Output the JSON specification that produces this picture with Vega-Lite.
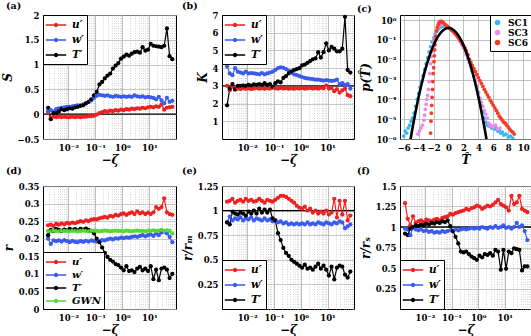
{
"$schema":"https://vega.github.io/schema/vega-lite/v6.json",
"padding":{"left":0,"top":0,"right":0,"bottom":0},
"columns":3,
"spacing":{"row":47,"column":46},
"bounds":"flush",
"resolve":{"scale":{"color":"independent"},"legend":{"color":"independent"}},
"config":{
 "font":"DejaVu Serif",
 "view":{"stroke":"#000000","strokeWidth":1},
 "axis":{"labelFont":"DejaVu Serif","labelFontWeight":"bold","labelFontSize":8.5,"labelColor":"#000000","titleFont":"DejaVu Serif","titleFontWeight":"bold","titleFontStyle":"italic","titleFontSize":11,"titleColor":"#000000","domain":false,"ticks":false,"grid":true,"gridColor":"#b0b0b0","gridWidth":0.7,"labelPadding":4,"titlePadding":3,"labelOverlap":false,"labelFlush":false},
 "legend":{"labelFont":"DejaVu Serif","labelFontWeight":"bold","labelColor":"#000000","strokeColor":"#000000","fillColor":"#ffffff","padding":3,"offset":0,"cornerRadius":0},
 "title":{"anchor":"start","frame":"group","font":"DejaVu Serif","fontWeight":"bold","fontSize":9.5,"color":"#000000","offset":1}
},
"datasets":{
 "a":[
{"x":0.001778,"u":0.03,"w":0.06,"T":0.13},{"x":0.002239,"u":-0.08,"w":0.08,"T":-0.10},{"x":0.002818,"u":-0.05,"w":0.05,"T":0.02},{"x":0.003548,"u":-0.06,"w":0.10,"T":0.02},{"x":0.004467,"u":-0.05,"w":0.12,"T":0.05},{"x":0.005623,"u":-0.06,"w":0.13,"T":0.10},{"x":0.007079,"u":-0.05,"w":0.14,"T":0.08},{"x":0.008913,"u":-0.06,"w":0.15,"T":0.10},{"x":0.01122,"u":-0.06,"w":0.15,"T":0.12},{"x":0.01413,"u":-0.05,"w":0.16,"T":0.11},{"x":0.01778,"u":-0.06,"w":0.17,"T":0.14},{"x":0.02239,"u":-0.05,"w":0.18,"T":0.15},{"x":0.02818,"u":-0.06,"w":0.18,"T":0.17},{"x":0.03548,"u":-0.05,"w":0.20,"T":0.18},{"x":0.04467,"u":-0.05,"w":0.22,"T":0.22},{"x":0.05623,"u":-0.04,"w":0.25,"T":0.25},{"x":0.07079,"u":-0.04,"w":0.28,"T":0.30},{"x":0.08913,"u":-0.03,"w":0.33,"T":0.38},{"x":0.1122,"u":-0.01,"w":0.37,"T":0.45},{"x":0.1413,"u":0.02,"w":0.39,"T":0.60},{"x":0.1778,"u":0.04,"w":0.38,"T":0.65},{"x":0.2239,"u":0.06,"w":0.37,"T":0.72},{"x":0.2818,"u":0.05,"w":0.38,"T":0.78},{"x":0.3548,"u":0.07,"w":0.36,"T":0.82},{"x":0.4467,"u":0.06,"w":0.35,"T":0.92},{"x":0.5623,"u":0.08,"w":0.37,"T":0.98},{"x":0.7079,"u":0.07,"w":0.36,"T":1.03},{"x":0.8913,"u":0.09,"w":0.35,"T":1.12},{"x":1.122,"u":0.08,"w":0.36,"T":1.16},{"x":1.413,"u":0.10,"w":0.35,"T":1.20},{"x":1.778,"u":0.09,"w":0.36,"T":1.18},{"x":2.239,"u":0.11,"w":0.35,"T":1.22},{"x":2.818,"u":0.10,"w":0.38,"T":1.25},{"x":3.548,"u":0.12,"w":0.36,"T":1.26},{"x":4.467,"u":0.11,"w":0.35,"T":1.24},{"x":5.623,"u":0.13,"w":0.36,"T":1.35},{"x":7.079,"u":0.12,"w":0.34,"T":1.28},{"x":8.913,"u":0.14,"w":0.35,"T":1.30},{"x":11.22,"u":0.15,"w":0.34,"T":1.42},{"x":14.13,"u":0.14,"w":0.33,"T":1.38},{"x":17.78,"u":0.16,"w":0.30,"T":1.37},{"x":22.39,"u":0.15,"w":0.35,"T":1.36},{"x":28.18,"u":0.20,"w":0.28,"T":1.35},{"x":35.48,"u":0.09,"w":0.22,"T":1.38},{"x":44.67,"u":0.13,"w":0.33,"T":1.73},{"x":56.23,"u":0.14,"w":0.25,"T":1.17},{"x":70.79,"u":0.15,"w":0.27,"T":1.11}
 ],
 "b":[
{"x":0.001778,"u":3.0,"w":4.1,"T":1.9},{"x":0.002239,"u":2.75,"w":3.7,"T":2.85},{"x":0.002818,"u":2.95,"w":3.6,"T":3.1},{"x":0.003548,"u":2.8,"w":4.0,"T":2.8},{"x":0.004467,"u":2.85,"w":3.8,"T":3.0},{"x":0.005623,"u":2.82,"w":3.75,"T":3.0},{"x":0.007079,"u":2.87,"w":3.7,"T":3.02},{"x":0.008913,"u":2.83,"w":3.8,"T":3.0},{"x":0.01122,"u":2.86,"w":3.7,"T":3.05},{"x":0.01413,"u":2.82,"w":3.72,"T":3.02},{"x":0.01778,"u":2.85,"w":3.7,"T":3.08},{"x":0.02239,"u":2.88,"w":3.68,"T":3.05},{"x":0.02818,"u":2.84,"w":3.65,"T":3.1},{"x":0.03548,"u":2.86,"w":3.72,"T":3.05},{"x":0.04467,"u":2.83,"w":3.65,"T":3.15},{"x":0.05623,"u":2.87,"w":3.7,"T":3.05},{"x":0.07079,"u":2.85,"w":3.75,"T":3.1},{"x":0.08913,"u":2.9,"w":3.8,"T":2.95},{"x":0.1122,"u":2.86,"w":3.9,"T":3.15},{"x":0.1413,"u":2.84,"w":4.0,"T":3.25},{"x":0.1778,"u":2.88,"w":4.05,"T":3.2},{"x":0.2239,"u":2.85,"w":4.02,"T":3.45},{"x":0.2818,"u":2.87,"w":3.95,"T":3.55},{"x":0.3548,"u":2.84,"w":3.85,"T":3.7},{"x":0.4467,"u":2.86,"w":3.75,"T":3.8},{"x":0.5623,"u":2.83,"w":3.65,"T":3.9},{"x":0.7079,"u":2.87,"w":3.6,"T":3.95},{"x":0.8913,"u":2.85,"w":3.55,"T":4.0},{"x":1.122,"u":2.88,"w":3.5,"T":4.15},{"x":1.413,"u":2.84,"w":3.45,"T":4.2},{"x":1.778,"u":2.86,"w":3.42,"T":4.3},{"x":2.239,"u":2.88,"w":3.4,"T":4.4},{"x":2.818,"u":2.85,"w":3.38,"T":4.5},{"x":3.548,"u":2.87,"w":3.35,"T":4.55},{"x":4.467,"u":2.84,"w":3.35,"T":4.9},{"x":5.623,"u":2.9,"w":3.33,"T":4.6},{"x":7.079,"u":2.86,"w":3.3,"T":4.9},{"x":8.913,"u":3.02,"w":3.32,"T":5.4},{"x":11.22,"u":2.85,"w":3.3,"T":5.0},{"x":14.13,"u":2.88,"w":3.28,"T":5.2},{"x":17.78,"u":2.7,"w":3.3,"T":5.1},{"x":22.39,"u":2.82,"w":3.35,"T":4.95},{"x":28.18,"u":2.62,"w":3.1,"T":4.95},{"x":35.48,"u":2.75,"w":3.15,"T":5.1},{"x":44.67,"u":2.85,"w":3.05,"T":6.9},{"x":56.23,"u":2.48,"w":3.1,"T":3.9},{"x":70.79,"u":2.42,"w":2.85,"T":3.75}
 ],
 "d":[
{"x":0.001778,"u":0.238,"w":0.2,"T":0.21,"G":0.222},{"x":0.002239,"u":0.24,"w":0.185,"T":0.225,"G":0.221},{"x":0.002818,"u":0.236,"w":0.195,"T":0.222,"G":0.223},{"x":0.003548,"u":0.242,"w":0.193,"T":0.228,"G":0.222},{"x":0.004467,"u":0.24,"w":0.195,"T":0.225,"G":0.221},{"x":0.005623,"u":0.243,"w":0.192,"T":0.222,"G":0.223},{"x":0.007079,"u":0.241,"w":0.196,"T":0.226,"G":0.222},{"x":0.008913,"u":0.245,"w":0.193,"T":0.224,"G":0.222},{"x":0.01122,"u":0.243,"w":0.19,"T":0.228,"G":0.221},{"x":0.01413,"u":0.246,"w":0.194,"T":0.225,"G":0.223},{"x":0.01778,"u":0.244,"w":0.191,"T":0.227,"G":0.222},{"x":0.02239,"u":0.247,"w":0.19,"T":0.224,"G":0.221},{"x":0.02818,"u":0.25,"w":0.193,"T":0.228,"G":0.222},{"x":0.03548,"u":0.248,"w":0.191,"T":0.226,"G":0.223},{"x":0.04467,"u":0.252,"w":0.194,"T":0.229,"G":0.222},{"x":0.05623,"u":0.25,"w":0.192,"T":0.225,"G":0.221},{"x":0.07079,"u":0.254,"w":0.195,"T":0.222,"G":0.222},{"x":0.08913,"u":0.256,"w":0.193,"T":0.215,"G":0.223},{"x":0.1122,"u":0.255,"w":0.192,"T":0.2,"G":0.222},{"x":0.1413,"u":0.258,"w":0.194,"T":0.19,"G":0.221},{"x":0.1778,"u":0.26,"w":0.196,"T":0.175,"G":0.222},{"x":0.2239,"u":0.262,"w":0.195,"T":0.16,"G":0.223},{"x":0.2818,"u":0.26,"w":0.198,"T":0.148,"G":0.222},{"x":0.3548,"u":0.265,"w":0.2,"T":0.14,"G":0.221},{"x":0.4467,"u":0.263,"w":0.198,"T":0.135,"G":0.222},{"x":0.5623,"u":0.268,"w":0.201,"T":0.128,"G":0.223},{"x":0.7079,"u":0.266,"w":0.2,"T":0.125,"G":0.222},{"x":0.8913,"u":0.27,"w":0.203,"T":0.118,"G":0.222},{"x":1.122,"u":0.272,"w":0.202,"T":0.11,"G":0.221},{"x":1.413,"u":0.268,"w":0.204,"T":0.122,"G":0.223},{"x":1.778,"u":0.272,"w":0.203,"T":0.108,"G":0.222},{"x":2.239,"u":0.275,"w":0.205,"T":0.11,"G":0.221},{"x":2.818,"u":0.27,"w":0.207,"T":0.105,"G":0.222},{"x":3.548,"u":0.278,"w":0.205,"T":0.115,"G":0.223},{"x":4.467,"u":0.272,"w":0.208,"T":0.12,"G":0.222},{"x":5.623,"u":0.275,"w":0.21,"T":0.11,"G":0.222},{"x":7.079,"u":0.27,"w":0.207,"T":0.115,"G":0.221},{"x":8.913,"u":0.274,"w":0.21,"T":0.108,"G":0.223},{"x":11.22,"u":0.27,"w":0.212,"T":0.122,"G":0.222},{"x":14.13,"u":0.275,"w":0.208,"T":0.085,"G":0.224},{"x":17.78,"u":0.29,"w":0.215,"T":0.112,"G":0.222},{"x":22.39,"u":0.285,"w":0.21,"T":0.082,"G":0.223},{"x":28.18,"u":0.29,"w":0.218,"T":0.115,"G":0.225},{"x":35.48,"u":0.315,"w":0.22,"T":0.118,"G":0.222},{"x":44.67,"u":0.275,"w":0.215,"T":0.112,"G":0.224},{"x":56.23,"u":0.27,"w":0.205,"T":0.088,"G":0.223},{"x":70.79,"u":0.268,"w":0.19,"T":0.1,"G":0.215}
 ],
 "e":[
{"x":0.001778,"u":1.09,"w":0.88,"T":0.88},{"x":0.002239,"u":1.1,"w":0.94,"T":0.86},{"x":0.002818,"u":1.12,"w":0.9,"T":0.99},{"x":0.003548,"u":1.08,"w":0.92,"T":0.97},{"x":0.004467,"u":1.1,"w":0.91,"T":0.96},{"x":0.005623,"u":1.11,"w":0.93,"T":0.98},{"x":0.007079,"u":1.09,"w":0.9,"T":0.97},{"x":0.008913,"u":1.12,"w":0.92,"T":0.95},{"x":0.01122,"u":1.1,"w":0.91,"T":0.99},{"x":0.01413,"u":1.11,"w":0.93,"T":0.97},{"x":0.01778,"u":1.09,"w":0.9,"T":1.0},{"x":0.02239,"u":1.1,"w":0.92,"T":0.97},{"x":0.02818,"u":1.12,"w":0.91,"T":1.02},{"x":0.03548,"u":1.1,"w":0.9,"T":0.98},{"x":0.04467,"u":1.08,"w":0.92,"T":1.01},{"x":0.05623,"u":1.11,"w":0.9,"T":0.98},{"x":0.07079,"u":1.1,"w":0.91,"T":1.01},{"x":0.08913,"u":1.09,"w":0.89,"T":0.92},{"x":0.1122,"u":1.11,"w":0.9,"T":0.9},{"x":0.1413,"u":1.13,"w":0.88,"T":0.77},{"x":0.1778,"u":1.15,"w":0.89,"T":0.7},{"x":0.2239,"u":1.15,"w":0.87,"T":0.62},{"x":0.2818,"u":1.14,"w":0.88,"T":0.57},{"x":0.3548,"u":1.12,"w":0.86,"T":0.54},{"x":0.4467,"u":1.1,"w":0.87,"T":0.5},{"x":0.5623,"u":1.08,"w":0.86,"T":0.48},{"x":0.7079,"u":1.05,"w":0.87,"T":0.46},{"x":0.8913,"u":1.03,"w":0.86,"T":0.44},{"x":1.122,"u":1.02,"w":0.87,"T":0.42},{"x":1.413,"u":1.04,"w":0.86,"T":0.45},{"x":1.778,"u":1.0,"w":0.88,"T":0.41},{"x":2.239,"u":1.02,"w":0.86,"T":0.42},{"x":2.818,"u":0.98,"w":0.87,"T":0.4},{"x":3.548,"u":1.0,"w":0.86,"T":0.43},{"x":4.467,"u":0.97,"w":0.88,"T":0.46},{"x":5.623,"u":0.99,"w":0.87,"T":0.41},{"x":7.079,"u":0.97,"w":0.86,"T":0.44},{"x":8.913,"u":1.0,"w":0.88,"T":0.4},{"x":11.22,"u":0.96,"w":0.87,"T":0.34},{"x":14.13,"u":0.98,"w":0.86,"T":0.43},{"x":17.78,"u":1.12,"w":0.88,"T":0.3},{"x":22.39,"u":0.93,"w":0.87,"T":0.42},{"x":28.18,"u":1.1,"w":0.89,"T":0.44},{"x":35.48,"u":0.96,"w":0.88,"T":0.43},{"x":44.67,"u":1.1,"w":0.82,"T":0.35},{"x":56.23,"u":0.9,"w":0.84,"T":0.32},{"x":70.79,"u":0.95,"w":0.86,"T":0.38}
 ],
 "f":[
{"x":0.001778,"u":1.29,"w":0.98,"T":0.92},{"x":0.002239,"u":1.1,"w":0.97,"T":0.9},{"x":0.002818,"u":1.02,"w":0.9,"T":0.98},{"x":0.003548,"u":1.13,"w":0.99,"T":1.0},{"x":0.004467,"u":1.05,"w":0.97,"T":1.02},{"x":0.005623,"u":1.07,"w":0.96,"T":1.01},{"x":0.007079,"u":1.08,"w":0.97,"T":1.03},{"x":0.008913,"u":1.06,"w":0.95,"T":1.02},{"x":0.01122,"u":1.09,"w":0.96,"T":1.04},{"x":0.01413,"u":1.08,"w":0.94,"T":1.03},{"x":0.01778,"u":1.07,"w":0.95,"T":1.05},{"x":0.02239,"u":1.09,"w":0.93,"T":1.04},{"x":0.02818,"u":1.1,"w":0.94,"T":1.06},{"x":0.03548,"u":1.08,"w":0.93,"T":1.05},{"x":0.04467,"u":1.11,"w":0.95,"T":1.07},{"x":0.05623,"u":1.12,"w":0.94,"T":1.06},{"x":0.07079,"u":1.13,"w":0.95,"T":1.08},{"x":0.08913,"u":1.16,"w":0.96,"T":1.01},{"x":0.1122,"u":1.15,"w":0.95,"T":0.95},{"x":0.1413,"u":1.17,"w":0.97,"T":0.88},{"x":0.1778,"u":1.18,"w":0.96,"T":0.8},{"x":0.2239,"u":1.19,"w":0.97,"T":0.7},{"x":0.2818,"u":1.2,"w":0.98,"T":0.69},{"x":0.3548,"u":1.22,"w":0.97,"T":0.7},{"x":0.4467,"u":1.21,"w":0.98,"T":0.67},{"x":0.5623,"u":1.23,"w":0.99,"T":0.64},{"x":0.7079,"u":1.24,"w":0.98,"T":0.62},{"x":0.8913,"u":1.26,"w":0.99,"T":0.6},{"x":1.122,"u":1.25,"w":0.98,"T":0.65},{"x":1.413,"u":1.22,"w":1.0,"T":0.63},{"x":1.778,"u":1.24,"w":0.99,"T":0.67},{"x":2.239,"u":1.26,"w":0.98,"T":0.66},{"x":2.818,"u":1.25,"w":1.0,"T":0.68},{"x":3.548,"u":1.27,"w":0.99,"T":0.65},{"x":4.467,"u":1.3,"w":1.01,"T":0.72},{"x":5.623,"u":1.33,"w":0.99,"T":0.7},{"x":7.079,"u":1.28,"w":1.0,"T":0.48},{"x":8.913,"u":1.26,"w":1.02,"T":0.72},{"x":11.22,"u":1.24,"w":0.99,"T":0.49},{"x":14.13,"u":1.2,"w":1.0,"T":0.7},{"x":17.78,"u":1.38,"w":0.98,"T":0.68},{"x":22.39,"u":1.28,"w":1.0,"T":0.74},{"x":28.18,"u":1.3,"w":1.05,"T":0.73},{"x":35.48,"u":1.38,"w":1.0,"T":0.72},{"x":44.67,"u":1.22,"w":1.02,"T":0.47},{"x":56.23,"u":1.2,"w":0.95,"T":0.52},{"x":70.79,"u":1.18,"w":0.84,"T":0.52}
 ],
 "c":[
{"s":"SC1","x":-6.0,"p":1.41e-6},{"s":"SC1","x":-5.8,"p":2.51e-6},{"s":"SC1","x":-5.6,"p":2.0e-6},{"s":"SC1","x":-5.4,"p":3.55e-6},{"s":"SC1","x":-5.2,"p":5.01e-6},{"s":"SC1","x":-5.0,"p":7.94e-6},{"s":"SC1","x":-4.8,"p":1.12e-5},{"s":"SC1","x":-4.6,"p":2.0e-5},{"s":"SC1","x":-4.4,"p":4.47e-5},{"s":"SC1","x":-4.2,"p":1.0e-4},{"s":"SC1","x":-4.0,"p":2.0e-4},{"s":"SC1","x":-3.8,"p":3.98e-4},{"s":"SC1","x":-3.6,"p":7.94e-4},{"s":"SC1","x":-3.4,"p":1.58e-3},{"s":"SC1","x":-3.2,"p":3.16e-3},{"s":"SC1","x":-3.0,"p":6.31e-3},{"s":"SC1","x":-2.8,"p":0.0126},{"s":"SC1","x":-2.6,"p":0.0251},{"s":"SC1","x":-2.4,"p":0.0447},{"s":"SC1","x":-2.2,"p":0.0794},{"s":"SC1","x":-2.0,"p":0.126},{"s":"SC1","x":-1.8,"p":0.191},{"s":"SC1","x":-1.6,"p":0.269},{"s":"SC1","x":-1.4,"p":0.347},{"s":"SC1","x":-1.2,"p":0.417},{"s":"SC1","x":-1.0,"p":0.468},{"s":"SC1","x":-0.8,"p":0.501},{"s":"SC1","x":-0.6,"p":0.501},{"s":"SC1","x":-0.4,"p":0.49},{"s":"SC1","x":-0.2,"p":0.457},{"s":"SC1","x":0.0,"p":0.427},{"s":"SC1","x":0.2,"p":0.38},{"s":"SC1","x":0.4,"p":0.331},{"s":"SC1","x":0.6,"p":0.282},{"s":"SC1","x":0.8,"p":0.234},{"s":"SC1","x":1.0,"p":0.191},{"s":"SC1","x":1.2,"p":0.148},{"s":"SC1","x":1.4,"p":0.112},{"s":"SC1","x":1.6,"p":0.0832},{"s":"SC1","x":1.8,"p":0.0603},{"s":"SC1","x":2.0,"p":0.0417},{"s":"SC1","x":2.2,"p":0.0282},{"s":"SC1","x":2.4,"p":0.0186},{"s":"SC1","x":2.6,"p":0.0117},{"s":"SC1","x":2.8,"p":7.41e-3},{"s":"SC1","x":3.0,"p":4.47e-3},{"s":"SC1","x":3.2,"p":2.63e-3},{"s":"SC1","x":3.4,"p":1.51e-3},{"s":"SC1","x":3.6,"p":8.51e-4},{"s":"SC1","x":3.8,"p":4.47e-4},{"s":"SC1","x":4.0,"p":2.24e-4},{"s":"SC1","x":4.2,"p":1.12e-4},{"s":"SC1","x":4.4,"p":5.01e-5},{"s":"SC1","x":4.6,"p":2.24e-5},{"s":"SC1","x":4.8,"p":1.12e-5},{"s":"SC1","x":5.0,"p":7.08e-6},{"s":"SC1","x":5.2,"p":5.01e-6},{"s":"SC1","x":5.4,"p":4.47e-6},{"s":"SC1","x":5.6,"p":5.01e-6},{"s":"SC1","x":5.8,"p":3.55e-6},{"s":"SC1","x":6.0,"p":3.98e-6},{"s":"SC1","x":6.2,"p":3.16e-6},{"s":"SC1","x":6.4,"p":3.55e-6},{"s":"SC1","x":6.6,"p":2.51e-6},{"s":"SC1","x":6.8,"p":2.82e-6},{"s":"SC1","x":7.0,"p":2.0e-6},{"s":"SC1","x":7.2,"p":2.24e-6},{"s":"SC1","x":7.4,"p":1.58e-6},{"s":"SC1","x":7.7,"p":1.78e-6},{"s":"SC1","x":8.0,"p":1.26e-6},{"s":"SC1","x":8.3,"p":1.41e-6},{"s":"SC1","x":8.6,"p":1.12e-6},
{"s":"SC3","x":-4.1,"p":1.78e-6},{"s":"SC3","x":-3.9,"p":2.51e-6},{"s":"SC3","x":-3.7,"p":3.55e-6},{"s":"SC3","x":-3.5,"p":5.01e-6},{"s":"SC3","x":-3.3,"p":8.91e-6},{"s":"SC3","x":-3.2,"p":1.58e-5},{"s":"SC3","x":-3.1,"p":3.16e-5},{"s":"SC3","x":-3.0,"p":5.62e-5},{"s":"SC3","x":-2.9,"p":1.0e-4},{"s":"SC3","x":-2.8,"p":1.58e-4},{"s":"SC3","x":-2.7,"p":3.16e-4},{"s":"SC3","x":-2.6,"p":7.94e-4},{"s":"SC3","x":-2.5,"p":2.0e-3},{"s":"SC3","x":-2.4,"p":6.31e-3},{"s":"SC3","x":-2.3,"p":0.0141},{"s":"SC3","x":-2.2,"p":0.0251},{"s":"SC3","x":-2.1,"p":0.0447},{"s":"SC3","x":-2.0,"p":0.0708},{"s":"SC3","x":-1.9,"p":0.112},{"s":"SC3","x":-1.8,"p":0.158},{"s":"SC3","x":-1.6,"p":0.282},{"s":"SC3","x":-1.4,"p":0.417},{"s":"SC3","x":-1.2,"p":0.537},{"s":"SC3","x":-1.0,"p":0.631},{"s":"SC3","x":-0.8,"p":0.646},{"s":"SC3","x":-0.6,"p":0.603},{"s":"SC3","x":-0.4,"p":0.537},{"s":"SC3","x":-0.2,"p":0.479},{"s":"SC3","x":0.0,"p":0.427},{"s":"SC3","x":0.2,"p":0.372},{"s":"SC3","x":0.4,"p":0.316},{"s":"SC3","x":0.6,"p":0.269},{"s":"SC3","x":0.8,"p":0.224},{"s":"SC3","x":1.0,"p":0.182},{"s":"SC3","x":1.2,"p":0.141},{"s":"SC3","x":1.4,"p":0.107},{"s":"SC3","x":1.6,"p":0.0794},{"s":"SC3","x":1.8,"p":0.0562},{"s":"SC3","x":2.0,"p":0.0398},{"s":"SC3","x":2.2,"p":0.0269},{"s":"SC3","x":2.4,"p":0.0178},{"s":"SC3","x":2.6,"p":0.0112},{"s":"SC3","x":2.8,"p":7.08e-3},{"s":"SC3","x":3.0,"p":4.47e-3},{"s":"SC3","x":3.2,"p":2.82e-3},{"s":"SC3","x":3.4,"p":1.58e-3},{"s":"SC3","x":3.6,"p":8.91e-4},{"s":"SC3","x":3.8,"p":4.47e-4},{"s":"SC3","x":4.0,"p":2.0e-4},{"s":"SC3","x":4.2,"p":1.12e-4},{"s":"SC3","x":4.4,"p":7.08e-5},{"s":"SC3","x":4.6,"p":4.47e-5},{"s":"SC3","x":4.8,"p":2.82e-5},{"s":"SC3","x":5.0,"p":1.78e-5},{"s":"SC3","x":5.2,"p":1.12e-5},{"s":"SC3","x":5.4,"p":6.31e-6},{"s":"SC3","x":5.6,"p":5.01e-6},{"s":"SC3","x":5.8,"p":4.47e-6},{"s":"SC3","x":6.0,"p":3.98e-6},{"s":"SC3","x":6.3,"p":5.01e-6},{"s":"SC3","x":6.6,"p":3.16e-6},{"s":"SC3","x":6.9,"p":3.55e-6},
{"s":"SC6","x":-2.4,"p":2.0e-6},{"s":"SC6","x":-2.35,"p":7.9e-6},{"s":"SC6","x":-2.3,"p":2.0e-5},{"s":"SC6","x":-2.25,"p":5.0e-5},{"s":"SC6","x":-2.2,"p":1.26e-4},{"s":"SC6","x":-2.15,"p":3.16e-4},{"s":"SC6","x":-2.1,"p":7.9e-4},{"s":"SC6","x":-2.05,"p":2.0e-3},{"s":"SC6","x":-2.0,"p":3.98e-3},{"s":"SC6","x":-1.95,"p":7.9e-3},{"s":"SC6","x":-1.9,"p":0.0158},{"s":"SC6","x":-1.85,"p":0.0316},{"s":"SC6","x":-1.8,"p":0.0562},{"s":"SC6","x":-1.75,"p":0.1},{"s":"SC6","x":-1.7,"p":0.151},{"s":"SC6","x":-1.6,"p":0.282},{"s":"SC6","x":-1.5,"p":0.417},{"s":"SC6","x":-1.4,"p":0.562},{"s":"SC6","x":-1.3,"p":0.692},{"s":"SC6","x":-1.2,"p":0.794},{"s":"SC6","x":-1.1,"p":0.851},{"s":"SC6","x":-1.0,"p":0.871},{"s":"SC6","x":-0.9,"p":0.832},{"s":"SC6","x":-0.8,"p":0.794},{"s":"SC6","x":-0.6,"p":0.692},{"s":"SC6","x":-0.4,"p":0.575},{"s":"SC6","x":-0.2,"p":0.501},{"s":"SC6","x":0.0,"p":0.427},{"s":"SC6","x":0.2,"p":0.372},{"s":"SC6","x":0.4,"p":0.316},{"s":"SC6","x":0.6,"p":0.269},{"s":"SC6","x":0.8,"p":0.224},{"s":"SC6","x":1.0,"p":0.186},{"s":"SC6","x":1.2,"p":0.148},{"s":"SC6","x":1.4,"p":0.115},{"s":"SC6","x":1.6,"p":0.0891},{"s":"SC6","x":1.8,"p":0.0692},{"s":"SC6","x":2.0,"p":0.0525},{"s":"SC6","x":2.2,"p":0.0398},{"s":"SC6","x":2.4,"p":0.0282},{"s":"SC6","x":2.6,"p":0.0178},{"s":"SC6","x":2.8,"p":0.0105},{"s":"SC6","x":3.0,"p":7.08e-3},{"s":"SC6","x":3.2,"p":5.01e-3},{"s":"SC6","x":3.4,"p":3.55e-3},{"s":"SC6","x":3.6,"p":2.51e-3},{"s":"SC6","x":3.8,"p":1.78e-3},{"s":"SC6","x":4.0,"p":1.26e-3},{"s":"SC6","x":4.2,"p":8.91e-4},{"s":"SC6","x":4.4,"p":6.31e-4},{"s":"SC6","x":4.6,"p":4.47e-4},{"s":"SC6","x":4.8,"p":3.16e-4},{"s":"SC6","x":5.0,"p":2.34e-4},{"s":"SC6","x":5.2,"p":1.70e-4},{"s":"SC6","x":5.4,"p":1.26e-4},{"s":"SC6","x":5.6,"p":8.91e-5},{"s":"SC6","x":5.8,"p":6.76e-5},{"s":"SC6","x":6.0,"p":5.01e-5},{"s":"SC6","x":6.2,"p":3.72e-5},{"s":"SC6","x":6.4,"p":2.75e-5},{"s":"SC6","x":6.6,"p":2.0e-5},{"s":"SC6","x":6.8,"p":1.41e-5},{"s":"SC6","x":7.0,"p":1.12e-5},{"s":"SC6","x":7.2,"p":8.91e-6},{"s":"SC6","x":7.4,"p":7.08e-6},{"s":"SC6","x":7.6,"p":6.31e-6},{"s":"SC6","x":7.8,"p":5.01e-6},{"s":"SC6","x":8.0,"p":3.98e-6},{"s":"SC6","x":8.2,"p":3.16e-6},{"s":"SC6","x":8.4,"p":2.51e-6},{"s":"SC6","x":8.6,"p":2.24e-6},{"s":"SC6","x":8.8,"p":1.78e-6}
 ],
 "g":[
{"x":-5.1,"p":8.95e-7},{"x":-5.05,"p":1.156e-6},{"x":-5.0,"p":1.487e-6},{"x":-4.9,"p":2.44e-6},{"x":-4.75,"p":5.03e-6},{"x":-4.5,"p":1.598e-5},{"x":-4.25,"p":4.77e-5},{"x":-4.0,"p":1.338e-4},{"x":-3.75,"p":3.526e-4},{"x":-3.5,"p":8.727e-4},{"x":-3.25,"p":2.029e-3},{"x":-3.0,"p":4.432e-3},{"x":-2.75,"p":9.094e-3},{"x":-2.5,"p":0.01753},{"x":-2.25,"p":0.03174},{"x":-2.0,"p":0.05399},{"x":-1.75,"p":0.08628},{"x":-1.5,"p":0.1295},{"x":-1.25,"p":0.1826},{"x":-1.0,"p":0.242},{"x":-0.75,"p":0.3011},{"x":-0.5,"p":0.3521},{"x":-0.25,"p":0.3867},{"x":0.0,"p":0.3989},{"x":0.25,"p":0.3867},{"x":0.5,"p":0.3521},{"x":0.75,"p":0.3011},{"x":1.0,"p":0.242},{"x":1.25,"p":0.1826},{"x":1.5,"p":0.1295},{"x":1.75,"p":0.08628},{"x":2.0,"p":0.05399},{"x":2.25,"p":0.03174},{"x":2.5,"p":0.01753},{"x":2.75,"p":9.094e-3},{"x":3.0,"p":4.432e-3},{"x":3.25,"p":2.029e-3},{"x":3.5,"p":8.727e-4},{"x":3.75,"p":3.526e-4},{"x":4.0,"p":1.338e-4},{"x":4.25,"p":4.77e-5},{"x":4.5,"p":1.598e-5},{"x":4.75,"p":5.03e-6},{"x":4.9,"p":2.44e-6},{"x":5.0,"p":1.487e-6},{"x":5.05,"p":1.156e-6},{"x":5.1,"p":8.95e-7}
 ]
},
"concat":[
 {"width":133,"height":124,"title":{"text":"(a)","dx":-37},
  "layer":[
   {"data":{"values":[{}]},"mark":{"type":"rule","color":"#000000","strokeWidth":1.3},"encoding":{"y":{"datum":0,"type":"quantitative","axis":{"title":"S","titleFontSize":12,"values":[-0.5,0,0.5,1,1.5,2],"labelExpr":"replace(''+datum.value,'-','−')","labelOverlap":false}}}},
   {"data":{"name":"a"},"transform":[{"fold":["u","w","T"],"as":["s","y"]}],
    "encoding":{
     "x":{"field":"x","type":"quantitative","scale":{"type":"log","domain":[0.00115,97],"nice":false},"axis":{"title":"−ζ","titleFontSize":12,"labelOverlap":false,"values":[0.002,0.003,0.004,0.005,0.006,0.007,0.008,0.009,0.01,0.02,0.03,0.04,0.05,0.06,0.07,0.08,0.09,0.1,0.2,0.3,0.4,0.5,0.6,0.7,0.8,0.9,1,2,3,4,5,6,7,8,9,10,20,30,40,50,60,70,80,90],"labelExpr":"abs(log(datum.value)/LN10-round(log(datum.value)/LN10))<0.001?['10⁻²','10⁻¹','10⁰','10¹'][round(log(datum.value)/LN10)+2]:''","gridDash":{"condition":{"test":"abs(log(datum.value)/LN10-round(log(datum.value)/LN10))<0.001","value":[]},"value":[1,1.5]},"gridColor":{"condition":{"test":"abs(log(datum.value)/LN10-round(log(datum.value)/LN10))<0.001","value":"#a0a0a0"},"value":"#c4c4c4"}}},
     "y":{"field":"y","type":"quantitative","scale":{"domain":[-0.5,2],"nice":false},"axis":{"title":"S","titleFontSize":12,"values":[-0.5,0,0.5,1,1.5,2],"labelExpr":"replace(''+datum.value,'-','−')","labelOverlap":false}},
     "color":{"field":"s","type":"nominal","scale":{"domain":["u","w","T"],"range":["#ee2020","#3a5bef","#000000"]},
      "legend":{"title":null,"orient":"top-left","symbolType":"M-1.7,0L1.7,0M0.25,0A0.25,0.25,0,1,1,-0.25,0A0.25,0.25,0,1,1,0.25,0Z","symbolSize":144,"symbolStrokeWidth":1.4,"symbolOffset":3,"labelOffset":9,"rowPadding":2,"labelFontSize":10.5,"labelFontStyle":"italic","labelExpr":"datum.value=='u'?'u′':datum.value=='w'?'w′':datum.value=='T'?'T′':'GWN'"}}
    },
    "layer":[{"mark":{"type":"line","strokeWidth":1.2}},{"mark":{"type":"point","filled":true,"size":18,"opacity":1}}]}
  ]},
 {"width":132,"height":124,"title":{"text":"(b)","dx":-40},
  "layer":[
   {"data":{"values":[{}]},"mark":{"type":"rule","color":"#000000","strokeWidth":1.3},"encoding":{"y":{"datum":3,"type":"quantitative","axis":{"title":"K","titleFontSize":12,"values":[1,2,3,4,5,6,7],"labelExpr":"''+datum.value","labelOverlap":false}}}},
   {"data":{"name":"b"},"transform":[{"fold":["u","w","T"],"as":["s","y"]}],
    "encoding":{
     "x":{"field":"x","type":"quantitative","scale":{"type":"log","domain":[0.00115,97],"nice":false},"axis":{"title":"−ζ","titleFontSize":12,"labelOverlap":false,"values":[0.002,0.003,0.004,0.005,0.006,0.007,0.008,0.009,0.01,0.02,0.03,0.04,0.05,0.06,0.07,0.08,0.09,0.1,0.2,0.3,0.4,0.5,0.6,0.7,0.8,0.9,1,2,3,4,5,6,7,8,9,10,20,30,40,50,60,70,80,90],"labelExpr":"abs(log(datum.value)/LN10-round(log(datum.value)/LN10))<0.001?['10⁻²','10⁻¹','10⁰','10¹'][round(log(datum.value)/LN10)+2]:''","gridDash":{"condition":{"test":"abs(log(datum.value)/LN10-round(log(datum.value)/LN10))<0.001","value":[]},"value":[1,1.5]},"gridColor":{"condition":{"test":"abs(log(datum.value)/LN10-round(log(datum.value)/LN10))<0.001","value":"#a0a0a0"},"value":"#c4c4c4"}}},
     "y":{"field":"y","type":"quantitative","scale":{"domain":[1,7],"nice":false},"axis":{"title":"K","titleFontSize":12,"values":[1,2,3,4,5,6,7],"labelExpr":"''+datum.value","labelOverlap":false}},
     "color":{"field":"s","type":"nominal","scale":{"domain":["u","w","T"],"range":["#ee2020","#3a5bef","#000000"]},
      "legend":{"title":null,"orient":"top-left","symbolType":"M-1.7,0L1.7,0M0.25,0A0.25,0.25,0,1,1,-0.25,0A0.25,0.25,0,1,1,0.25,0Z","symbolSize":144,"symbolStrokeWidth":1.4,"symbolOffset":3,"labelOffset":9,"rowPadding":2,"labelFontSize":10.5,"labelFontStyle":"italic","labelExpr":"datum.value=='u'?'u′':datum.value=='w'?'w′':datum.value=='T'?'T′':'GWN'"}}
    },
    "layer":[{"mark":{"type":"line","strokeWidth":1.2}},{"mark":{"type":"point","filled":true,"size":18,"opacity":1}}]}
  ]},
 {"width":131,"height":124,"title":{"text":"(c)","dx":-43},
  "encoding":{
   "x":{"field":"x","type":"quantitative","scale":{"domain":[-6.5,11.05],"nice":false,"zero":false},"axis":{"title":"T̂","titleFontSize":12,"values":[-6,-4,-2,0,2,4,6,8,10],"labelExpr":"replace(''+datum.value,'-','−')","labelOverlap":false,"gridColor":"#a8a8a8"}},
   "y":{"field":"p","type":"quantitative","scale":{"type":"log","domain":[1e-6,1.8],"nice":false},"axis":{"title":"p(T̂)","titleFontSize":12,"labelOverlap":false,"values":[1e-6,1e-5,1e-4,1e-3,1e-2,1e-1,1],"labelExpr":"['10⁰','10⁻¹','10⁻²','10⁻³','10⁻⁴','10⁻⁵','10⁻⁶'][-round(log(datum.value)/LN10)]","gridColor":"#a8a8a8"}}
  },
  "layer":[
   {"data":{"name":"c"},"mark":{"type":"point","filled":true,"size":14,"opacity":1,"clip":true},
    "encoding":{
     "color":{"field":"s","type":"nominal","scale":{"domain":["SC1","SC3","SC6"],"range":["#33b8f0","#ee8aee","#f43c24"]},"legend":{"title":null,"orient":"top-right","symbolType":"circle","symbolSize":30,"labelFontSize":9,"rowPadding":0,"labelOffset":6}}
    }},
   {"data":{"name":"g"},"mark":{"type":"line","color":"#000000","strokeWidth":2.6,"clip":true,"interpolate":"monotone"}}
  ]},
 {"width":133,"height":123,"title":{"text":"(d)","dx":-37,"offset":7},
  "layer":[
   {"data":{"name":"d"},"transform":[{"fold":["u","w","T","G"],"as":["s","y"]}],
    "encoding":{
     "x":{"field":"x","type":"quantitative","scale":{"type":"log","domain":[0.00115,97],"nice":false},"axis":{"title":"−ζ","titleFontSize":12,"labelOverlap":false,"values":[0.002,0.003,0.004,0.005,0.006,0.007,0.008,0.009,0.01,0.02,0.03,0.04,0.05,0.06,0.07,0.08,0.09,0.1,0.2,0.3,0.4,0.5,0.6,0.7,0.8,0.9,1,2,3,4,5,6,7,8,9,10,20,30,40,50,60,70,80,90],"labelExpr":"abs(log(datum.value)/LN10-round(log(datum.value)/LN10))<0.001?['10⁻²','10⁻¹','10⁰','10¹'][round(log(datum.value)/LN10)+2]:''","gridDash":{"condition":{"test":"abs(log(datum.value)/LN10-round(log(datum.value)/LN10))<0.001","value":[]},"value":[1,1.5]},"gridColor":{"condition":{"test":"abs(log(datum.value)/LN10-round(log(datum.value)/LN10))<0.001","value":"#a0a0a0"},"value":"#c4c4c4"}}},
     "y":{"field":"y","type":"quantitative","scale":{"domain":[0,0.35],"nice":false},"axis":{"title":"r","titleFontSize":12,"values":[0,0.05,0.1,0.15,0.2,0.25,0.3,0.35],"labelExpr":"''+datum.value","labelOverlap":false}},
     "color":{"field":"s","type":"nominal","scale":{"domain":["u","w","T","G"],"range":["#ee2020","#3a5bef","#000000","#58d63a"]},
      "legend":{"title":null,"orient":"bottom-left","symbolType":"M-1.7,0L1.7,0M0.25,0A0.25,0.25,0,1,1,-0.25,0A0.25,0.25,0,1,1,0.25,0Z","symbolSize":144,"symbolStrokeWidth":1.4,"symbolOffset":3,"labelOffset":9,"rowPadding":1,"labelFontSize":10,"labelFontStyle":"italic","labelExpr":"datum.value=='u'?'u′':datum.value=='w'?'w′':datum.value=='T'?'T′':'GWN'"}}
    },
    "layer":[{"mark":{"type":"line","strokeWidth":1.2}},{"mark":{"type":"point","filled":true,"size":18,"opacity":1}}]}
  ]},
 {"width":132,"height":123,"title":{"text":"(e)","dx":-40,"offset":7},
  "layer":[
   {"data":{"values":[{}]},"mark":{"type":"rule","color":"#000000","strokeWidth":1.3},"encoding":{"y":{"datum":1,"type":"quantitative","axis":{"title":"r/rₘ","titleFontSize":12,"values":[0.25,0.5,0.75,1,1.25],"labelExpr":"''+datum.value","labelOverlap":false}}}},
   {"data":{"name":"e"},"transform":[{"fold":["u","w","T"],"as":["s","y"]}],
    "encoding":{
     "x":{"field":"x","type":"quantitative","scale":{"type":"log","domain":[0.00115,97],"nice":false},"axis":{"title":"−ζ","titleFontSize":12,"labelOverlap":false,"values":[0.002,0.003,0.004,0.005,0.006,0.007,0.008,0.009,0.01,0.02,0.03,0.04,0.05,0.06,0.07,0.08,0.09,0.1,0.2,0.3,0.4,0.5,0.6,0.7,0.8,0.9,1,2,3,4,5,6,7,8,9,10,20,30,40,50,60,70,80,90],"labelExpr":"abs(log(datum.value)/LN10-round(log(datum.value)/LN10))<0.001?['10⁻²','10⁻¹','10⁰','10¹'][round(log(datum.value)/LN10)+2]:''","gridDash":{"condition":{"test":"abs(log(datum.value)/LN10-round(log(datum.value)/LN10))<0.001","value":[]},"value":[1,1.5]},"gridColor":{"condition":{"test":"abs(log(datum.value)/LN10-round(log(datum.value)/LN10))<0.001","value":"#a0a0a0"},"value":"#c4c4c4"}}},
     "y":{"field":"y","type":"quantitative","scale":{"domain":[0.25,1.25],"nice":false},"axis":{"title":"r/rₘ","titleFontSize":12,"values":[0.25,0.5,0.75,1,1.25],"labelExpr":"''+datum.value","labelOverlap":false}},
     "color":{"field":"s","type":"nominal","scale":{"domain":["u","w","T"],"range":["#ee2020","#3a5bef","#000000"]},
      "legend":{"title":null,"orient":"bottom-left","symbolType":"M-1.7,0L1.7,0M0.25,0A0.25,0.25,0,1,1,-0.25,0A0.25,0.25,0,1,1,0.25,0Z","symbolSize":144,"symbolStrokeWidth":1.4,"symbolOffset":3,"labelOffset":9,"rowPadding":2,"labelFontSize":10.5,"labelFontStyle":"italic","labelExpr":"datum.value=='u'?'u′':datum.value=='w'?'w′':datum.value=='T'?'T′':'GWN'"}}
    },
    "layer":[{"mark":{"type":"line","strokeWidth":1.2}},{"mark":{"type":"point","filled":true,"size":18,"opacity":1}}]}
  ]},
 {"width":131,"height":123,"title":{"text":"(f)","dx":-43,"offset":7},
  "layer":[
   {"data":{"values":[{}]},"mark":{"type":"rule","color":"#000000","strokeWidth":1.3},"encoding":{"y":{"datum":1,"type":"quantitative","axis":{"title":"r/rₛ","titleFontSize":12,"values":[0.25,0.5,0.75,1,1.25,1.5],"labelExpr":"''+datum.value","labelOverlap":false}}}},
   {"data":{"name":"f"},"transform":[{"fold":["u","w","T"],"as":["s","y"]}],
    "encoding":{
     "x":{"field":"x","type":"quantitative","scale":{"type":"log","domain":[0.00115,97],"nice":false},"axis":{"title":"−ζ","titleFontSize":12,"labelOverlap":false,"values":[0.002,0.003,0.004,0.005,0.006,0.007,0.008,0.009,0.01,0.02,0.03,0.04,0.05,0.06,0.07,0.08,0.09,0.1,0.2,0.3,0.4,0.5,0.6,0.7,0.8,0.9,1,2,3,4,5,6,7,8,9,10,20,30,40,50,60,70,80,90],"labelExpr":"abs(log(datum.value)/LN10-round(log(datum.value)/LN10))<0.001?['10⁻²','10⁻¹','10⁰','10¹'][round(log(datum.value)/LN10)+2]:''","gridDash":{"condition":{"test":"abs(log(datum.value)/LN10-round(log(datum.value)/LN10))<0.001","value":[]},"value":[1,1.5]},"gridColor":{"condition":{"test":"abs(log(datum.value)/LN10-round(log(datum.value)/LN10))<0.001","value":"#a0a0a0"},"value":"#c4c4c4"}}},
     "y":{"field":"y","type":"quantitative","scale":{"domain":[0.25,1.5],"nice":false},"axis":{"title":"r/rₛ","titleFontSize":12,"values":[0.25,0.5,0.75,1,1.25,1.5],"labelExpr":"''+datum.value","labelOverlap":false}},
     "color":{"field":"s","type":"nominal","scale":{"domain":["u","w","T"],"range":["#ee2020","#3a5bef","#000000"]},
      "legend":{"title":null,"orient":"bottom-left","symbolType":"M-1.7,0L1.7,0M0.25,0A0.25,0.25,0,1,1,-0.25,0A0.25,0.25,0,1,1,0.25,0Z","symbolSize":144,"symbolStrokeWidth":1.4,"symbolOffset":3,"labelOffset":9,"rowPadding":2,"labelFontSize":10.5,"labelFontStyle":"italic","labelExpr":"datum.value=='u'?'u′':datum.value=='w'?'w′':datum.value=='T'?'T′':'GWN'"}}
    },
    "layer":[{"mark":{"type":"line","strokeWidth":1.2}},{"mark":{"type":"point","filled":true,"size":18,"opacity":1}}]}
  ]}
]
}
